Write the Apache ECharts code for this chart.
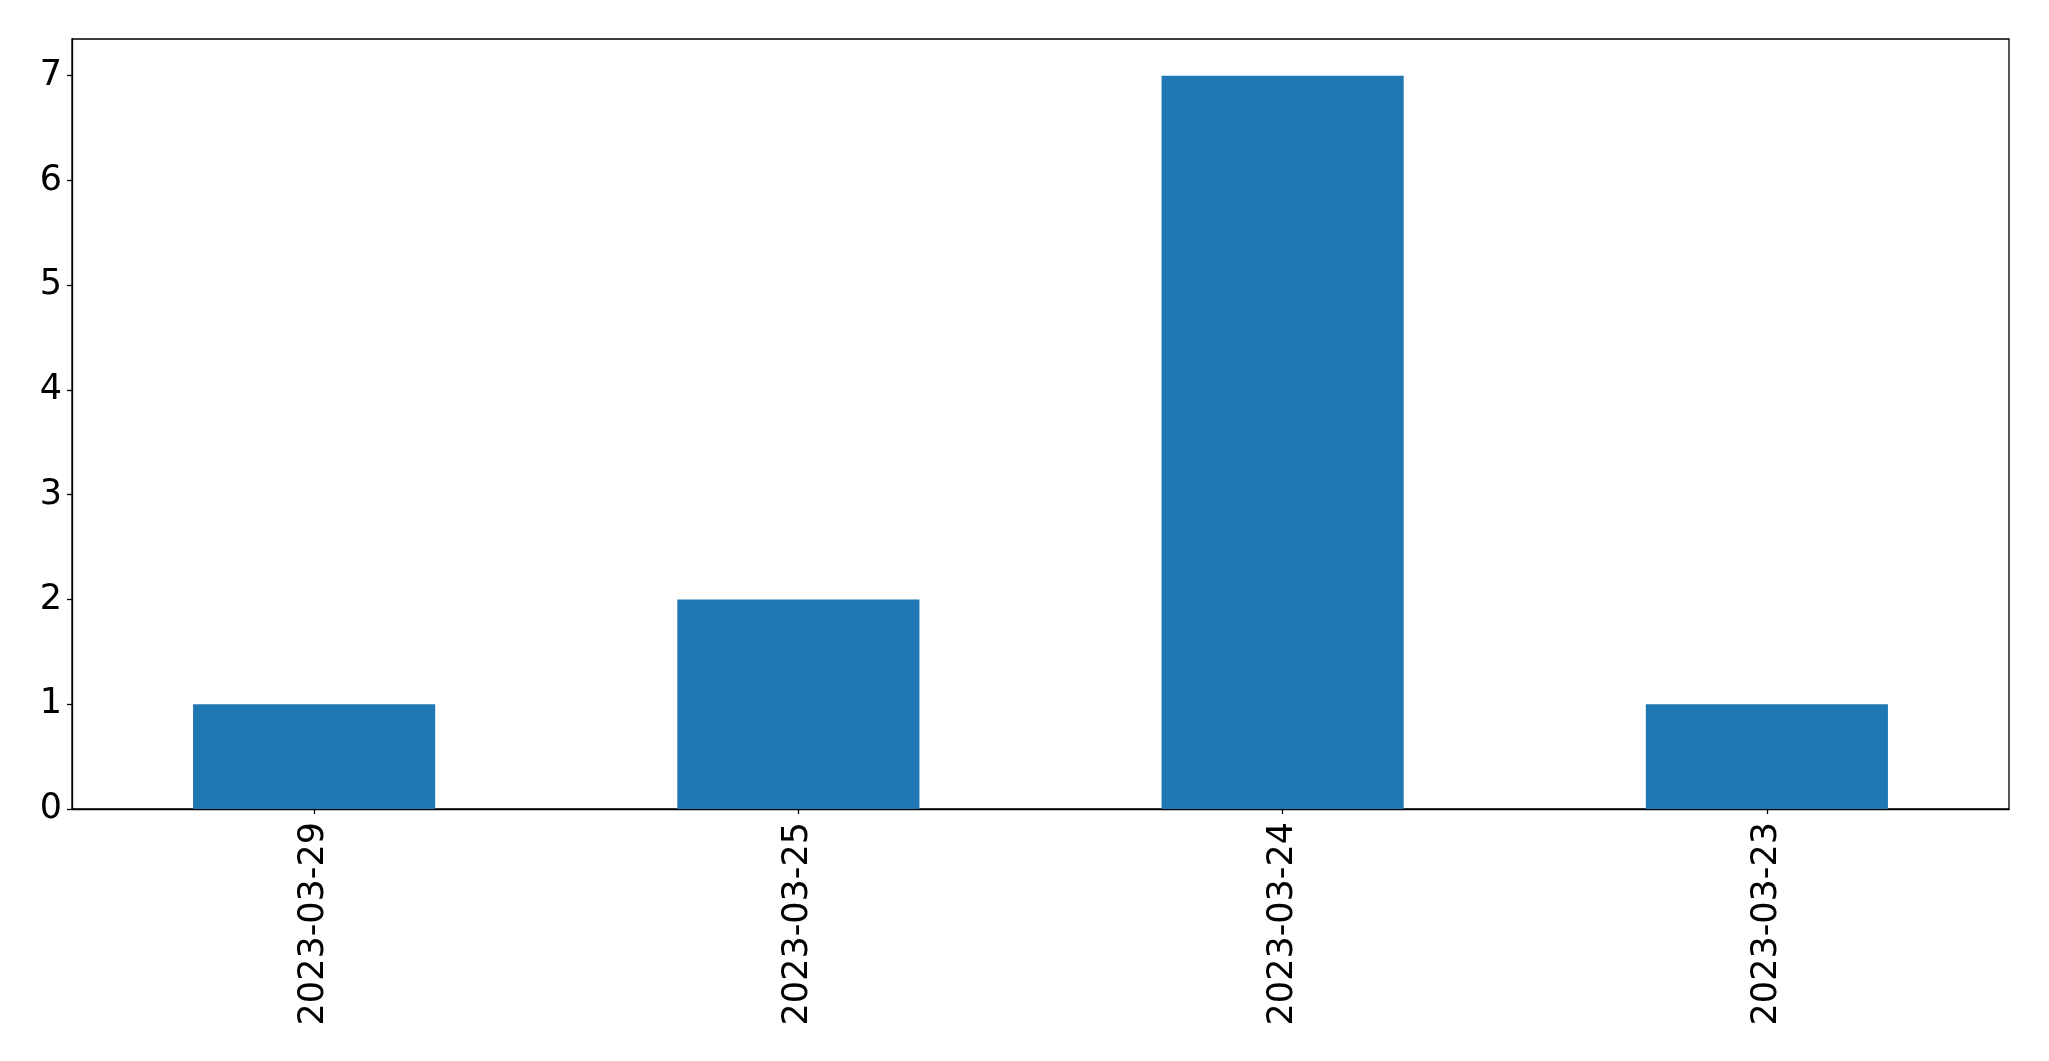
<!DOCTYPE html>
<html>
<head>
<meta charset="utf-8">
<script src="https://cdn.jsdelivr.net/npm/echarts@6/dist/echarts.min.js"></script>
<style>
html,body{margin:0;padding:0;background:#fff;}
#chart{width:2049px;height:1061px;}
</style>
</head>
<body>
<div id="chart"></div>
<script>
const categories = ['2023-03-29', '2023-03-25', '2023-03-24', '2023-03-23'];
const values = [1, 2, 7, 1];
const yTicks = [0, 1, 2, 3, 4, 5, 6, 7];

const chart = echarts.init(document.getElementById('chart'), null, {renderer: 'canvas'});
const font = 'DejaVu Sans';
chart.setOption({
  animation: false,
  backgroundColor: '#ffffff',
  grid: {
    left: 72, right: 40, top: 39, bottom: 252,
    show: true, borderColor: '#000000', borderWidth: 1.3, backgroundColor: 'transparent'
  },
  xAxis: {
    type: 'category',
    data: categories,
    boundaryGap: true,
    axisLine: {show: true, lineStyle: {color: '#000', width: 1.3}},
    axisTick: {show: true, alignWithLabel: true, length: 5, lineStyle: {color: '#000', width: 1.3}},
    axisLabel: {rotate: 90, margin: 13, color: '#000', fontFamily: font, fontSize: 35},
    splitLine: {show: false}
  },
  yAxis: {
    type: 'value',
    min: 0, max: 7.35,
    axisLine: {show: true, lineStyle: {color: '#000', width: 1.3}},
    axisTick: {show: true, length: 5, lineStyle: {color: '#000', width: 1.3}, customValues: yTicks},
    axisLabel: {margin: 10, color: '#000', fontFamily: font, fontSize: 35, customValues: yTicks, padding: [9, 0, 0, 0]},
    splitLine: {show: false}
  },
  series: [{
    type: 'bar',
    data: values,
    barWidth: '50%',
    itemStyle: {color: '#1f77b4'}
  }]
});
</script>
</body>
</html>
